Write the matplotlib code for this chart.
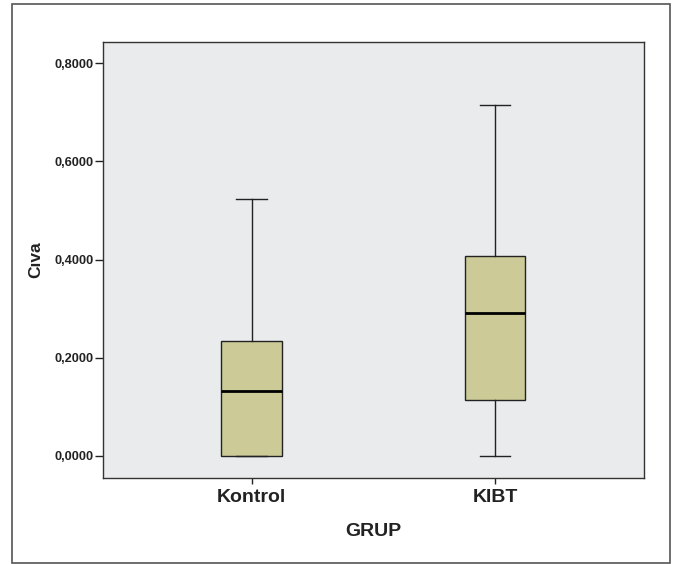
import matplotlib.pyplot as plt
from matplotlib.patches import Rectangle
from matplotlib.ticker import FuncFormatter

# =========================
# DATA
# =========================
groups = ["Kontrol", "KIBT"]
whisker_lo = [0.000, 0.000]
q1 = [0.000, 0.114]
median = [0.132, 0.291]
q3 = [0.234, 0.407]
whisker_hi = [0.523, 0.715]

plt.rcParams['font.family'] = ['Liberation Sans', 'DejaVu Sans']

stats = []
for i, g in enumerate(groups):
    stats.append(dict(label=g, whislo=whisker_lo[i], q1=q1[i], med=median[i],
                      q3=q3[i], whishi=whisker_hi[i], fliers=[]))

fig = plt.figure(figsize=(6.73, 5.64), dpi=100)
ax = fig.add_axes([103 / 673, 86 / 564, 541 / 673, 436 / 564])
ax.set_facecolor("#eaebed")

ax.bxp(stats, positions=[1, 2], widths=0.25, patch_artist=True,
       boxprops=dict(facecolor="#cccb97", edgecolor="#222222", linewidth=1.0),
       medianprops=dict(color="black", linewidth=2.0),
       whiskerprops=dict(color="#222222", linewidth=1.0),
       capprops=dict(color="#222222", linewidth=1.0),
       capwidths=0.125)

ax.set_xlim(0.39, 2.612)
ax.set_ylim(-0.045, 0.843)
ax.set_yticks([0.0, 0.2, 0.4, 0.6, 0.8])
ax.yaxis.set_major_formatter(FuncFormatter(lambda v, p: f"{v:.4f}".replace(".", ",")))

for s in ax.spines.values():
    s.set_color("#333333")
    s.set_linewidth(1.0)

ax.tick_params(axis="y", direction="out", length=6, width=1, color="#222222",
               labelsize=9.2, pad=1)
ax.tick_params(axis="x", direction="out", length=4, width=1, color="#222222",
               labelsize=14, pad=4)
for lab in ax.get_yticklabels() + ax.get_xticklabels():
    lab.set_fontweight("bold")
    lab.set_color("#222222")

ax.set_xlabel("GRUP", fontsize=14, fontweight="bold", color="#222222", labelpad=12)
ax.set_ylabel("Cıva", fontsize=12.5, fontweight="bold", color="#222222", labelpad=8)

# outer frame around the whole chart
fig.patches.append(Rectangle((12 / 673, 1 / 564), 658 / 673, 559 / 564,
                             transform=fig.transFigure, fill=False,
                             edgecolor="#555555", linewidth=1.2))

fig.savefig("out.png", dpi=100)
